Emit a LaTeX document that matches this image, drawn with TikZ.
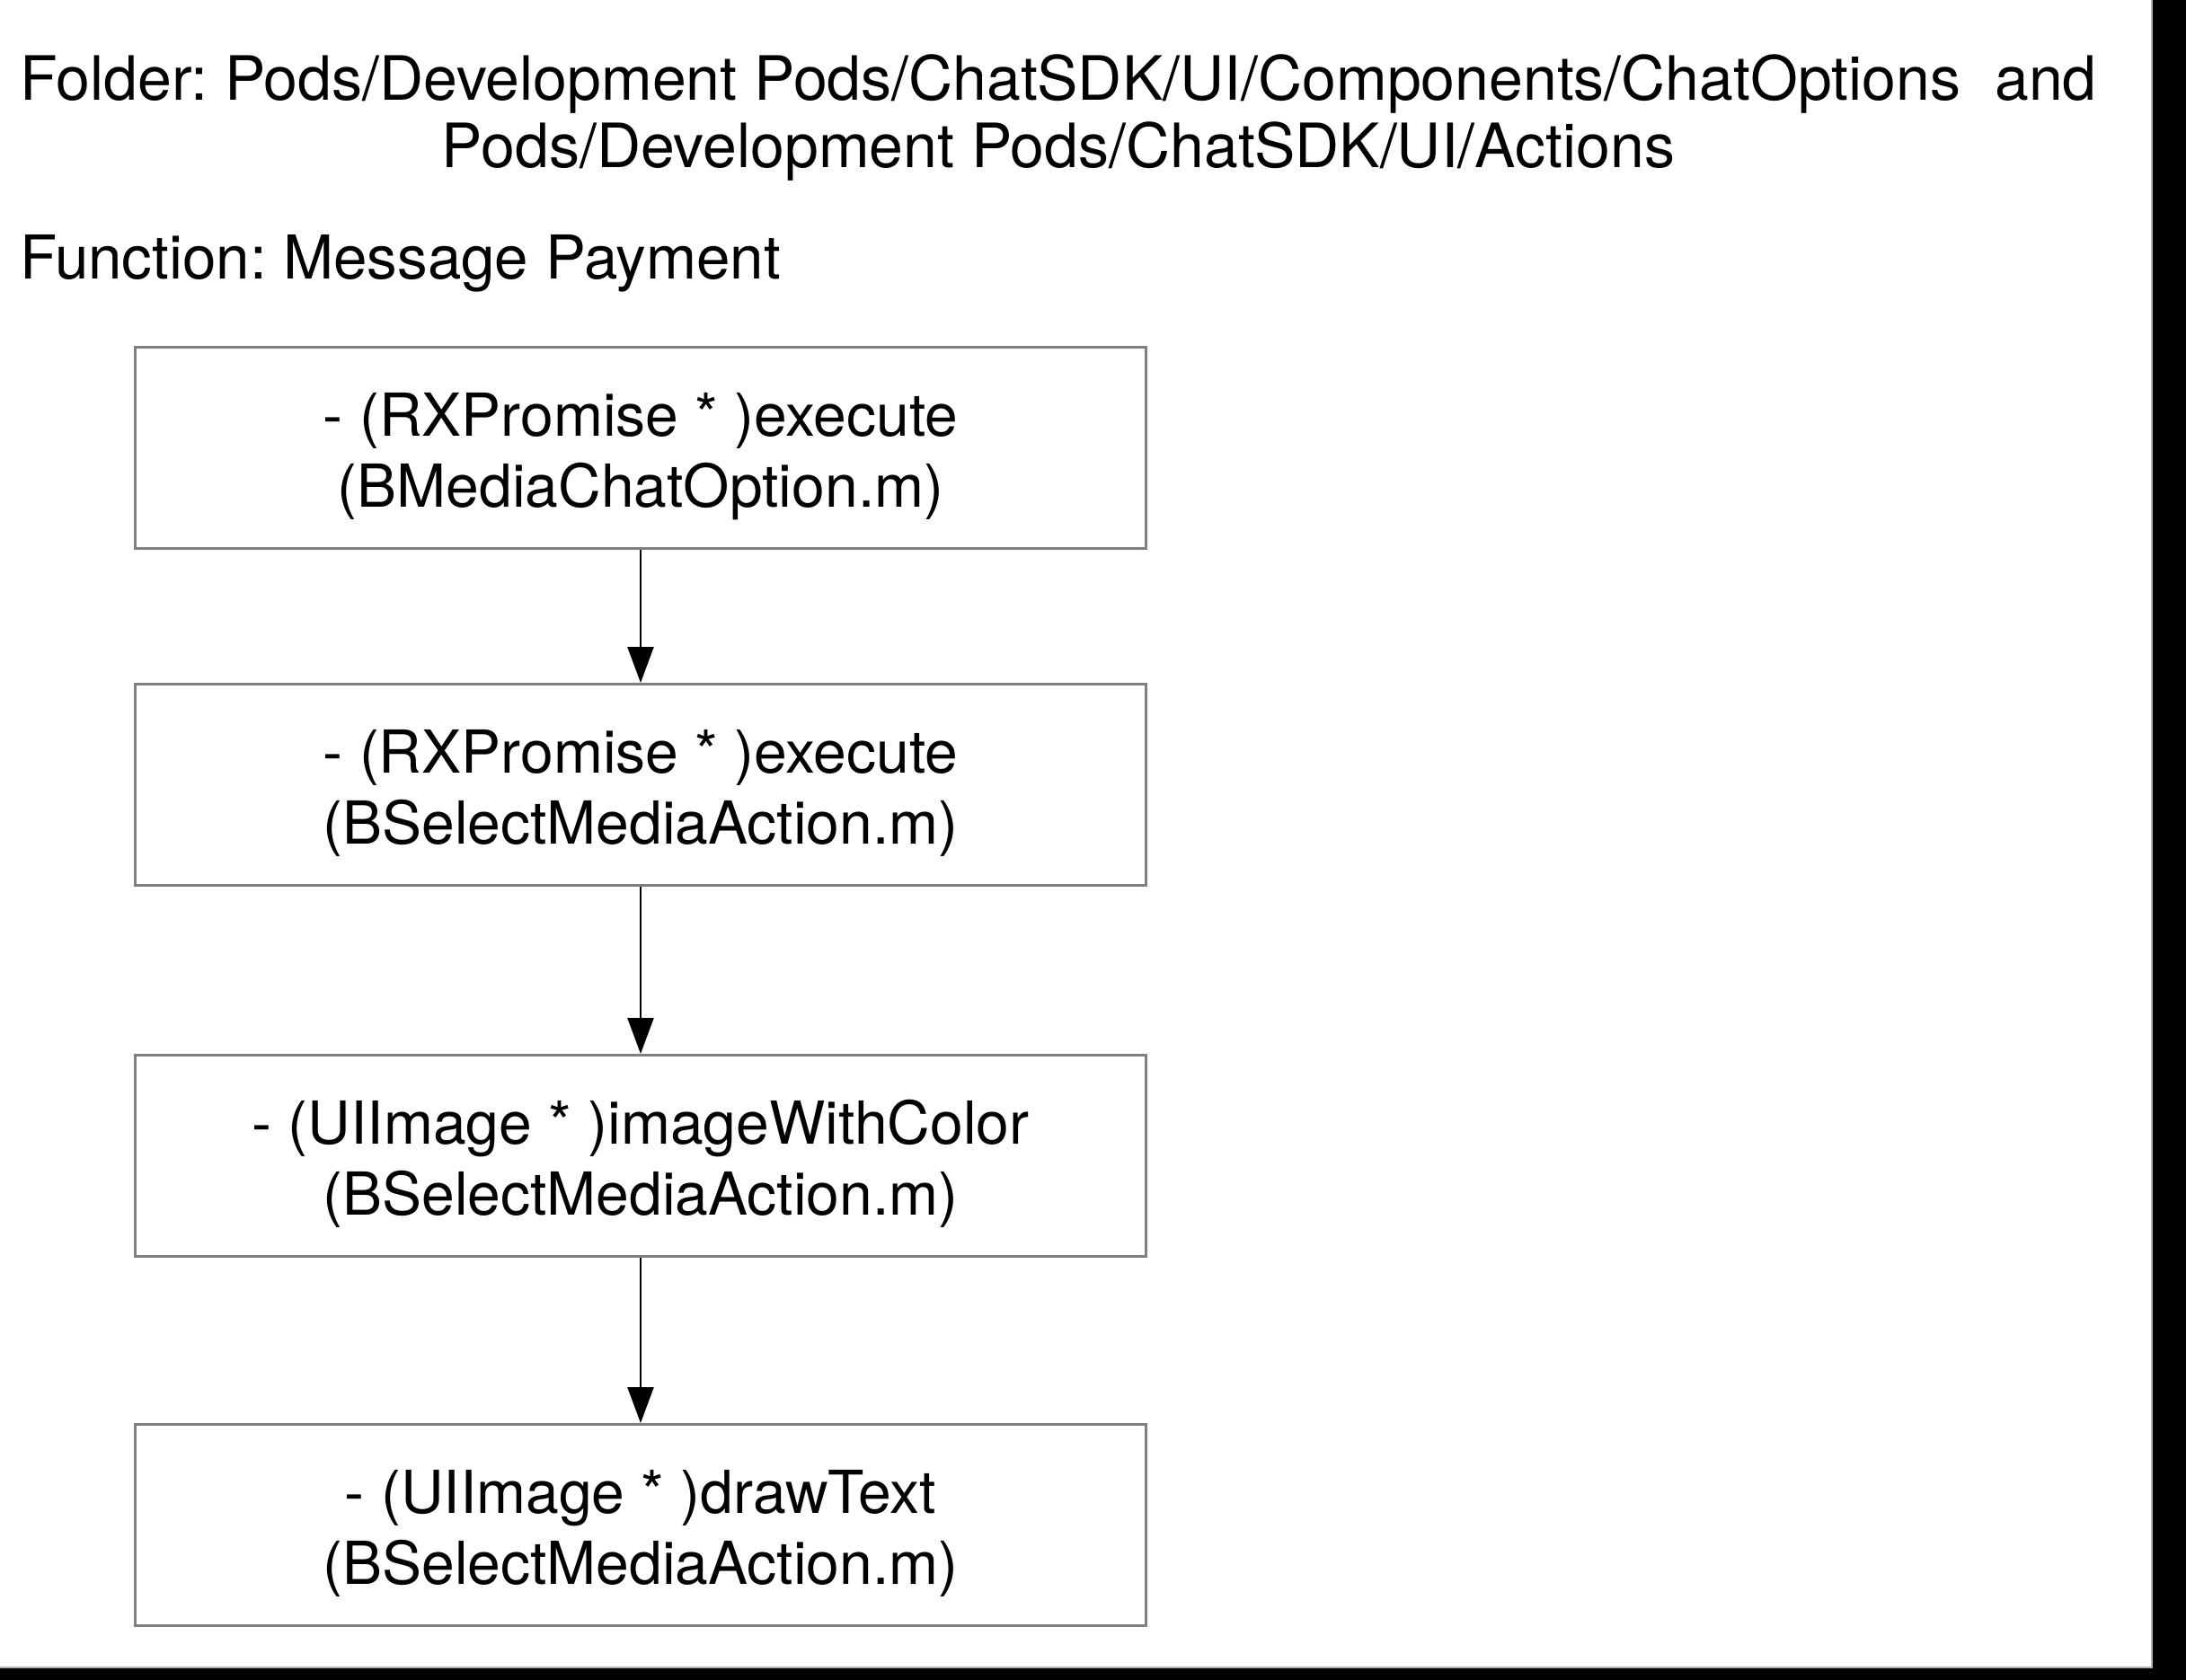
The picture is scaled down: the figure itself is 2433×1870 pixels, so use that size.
\documentclass[tikz,border=0pt]{standalone}
\usepackage{fontspec}
\setmainfont{TeX Gyre Heros}
\usetikzlibrary{arrows.meta}
\newcommand{\boxstrut}{\rule{0pt}{67pt}}
\tikzset{
  fnbox/.style={draw=black!50, line width=3pt, fill=white, minimum width=1125pt, minimum height=224pt,
    inner sep=0pt, align=center, font=\fontsize{66}{79}\selectfont},
  flow/.style={line width=2.5pt, -{Triangle[length=40pt,width=29pt]}},
  label/.style={inner sep=0pt, align=center, font=\fontsize{68}{75}\selectfont}
}
\begin{document}
\frenchspacing
\begin{tikzpicture}[x=1pt,y=-1pt]
\useasboundingbox (0,0) rectangle (2433,1870);
\fill[white] (0,0) rectangle (2433,1870);
\fill[black] (2396,0) rectangle (2433,1870);
\fill[black] (0,1857) rectangle (2433,1870);
\draw[black!30, line width=1.5pt] (0,1856) -- (2395,1856) -- (2395,0);
\node[label] (title) at (1178,131) {Folder: Pods/Development Pods/ChatSDK/UI/Components/ChatOptions\ \ and\\Pods/Development Pods/ChatSDK/UI/Actions};
\node[label, anchor=west, font=\fontsize{67.3}{75}\selectfont] (func) at (22,293) {Function: Message Payment};
\node[fnbox] (b1) at (713,498.5) {\boxstrut- (RXPromise * )execute\\(BMediaChatOption.m)};
\node[fnbox] (b2) at (713,873.5) {\boxstrut- (RXPromise * )execute\\(BSelectMediaAction.m)};
\node[fnbox] (b3) at (713,1286.5) {\boxstrut- (UIImage * )imageWithColor\\(BSelectMediaAction.m)};
\node[fnbox] (b4) at (713,1697.5) {\boxstrut- (UIImage * )drawText\\(BSelectMediaAction.m)};
\draw[flow] (b1.south) -- (b2.north);
\draw[flow] (b2.south) -- (b3.north);
\draw[flow] (b3.south) -- (b4.north);
\end{tikzpicture}
\end{document}
